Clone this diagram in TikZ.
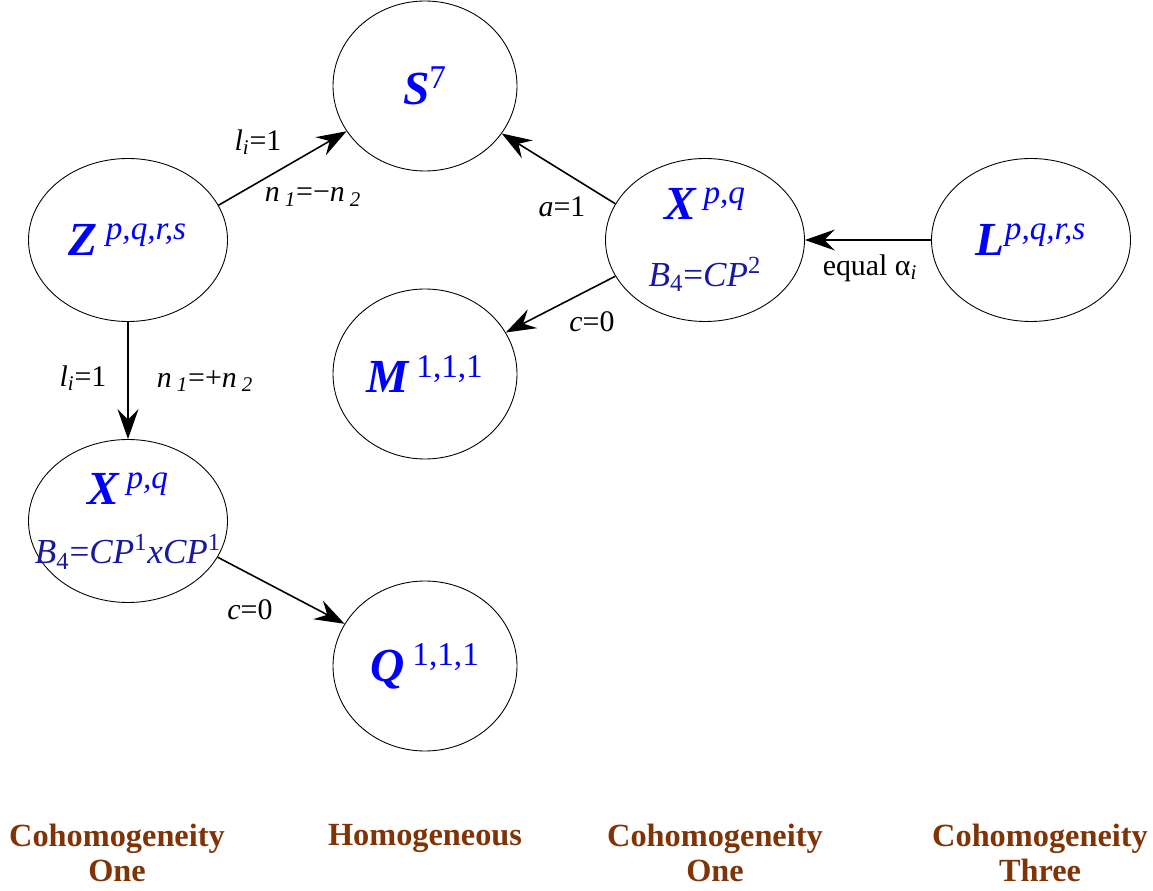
\documentclass[tikz,border=0pt]{standalone}
\usepackage{fontspec}
\setmainfont{Liberation Serif}
\usetikzlibrary{shapes.geometric,arrows.meta,positioning}
\definecolor{spaceblue}{RGB}{0,0,255}
\definecolor{baseblue}{RGB}{25,25,160}
\definecolor{classbrown}{RGB}{128,52,6}

\tikzset{
  spacenode/.style={ellipse, draw, line width=0.5pt, minimum width=3.98cm,
    minimum height=3.26cm, inner sep=0pt, align=center, text=spaceblue,
    font=\fontsize{27}{30}\selectfont},
  roundnode/.style={spacenode, minimum width=3.68cm, minimum height=3.4cm},
  flow/.style={-{Stealth[length=6mm,width=4.2mm,inset=2.1mm]}, line width=0.9pt},
  edgelabel/.style={inner sep=1pt, font=\fontsize{17}{19}\selectfont},
  classlabel/.style={anchor=north, align=center, inner sep=0pt, text=classbrown,
    font=\fontsize{18.4}{19.8}\selectfont\bfseries}
}
\newcommand{\mainsym}[1]{{\bfseries\itshape #1}}
\newcommand{\basesp}[1]{\makebox[0pt][c]{\color{baseblue}\fontsize{20}{22}\selectfont #1}}

\begin{document}
\begin{tikzpicture}
    \useasboundingbox (0,0) rectangle (23.06,17.8);

    % Spaces
    \node[roundnode] (S7) at (8.5,16.08) {\mainsym{S}\textsuperscript{7}};
    \node[spacenode] (Z) at (2.56,13.0) {\mainsym{Z}\,\textsuperscript{\itshape p,q,r,s}};
    \node[spacenode] (Xr) at (14.1,13.0) {\mainsym{X}\,\textsuperscript{\itshape p,q}\\[8pt]
        \basesp{\textit{B}\textsubscript{4}=\textit{CP}\textsuperscript{2}}};
    \node[spacenode] (L) at (20.62,13.0) {\mainsym{L}\textsuperscript{\itshape p,q,r,s}};
    \node[roundnode] (M) at (8.5,10.32) {\mainsym{M}\,\textsuperscript{1,1,1}};
    \node[spacenode] (Xl) at (2.56,7.38) {\mainsym{X}\,\textsuperscript{\itshape p,q}\\[4pt]
        \basesp{\textit{B}\textsubscript{4}=\textit{CP}\textsuperscript{1}\textit{xCP}\textsuperscript{1}}};
    \node[roundnode] (Q) at (8.5,4.48) {\mainsym{Q}\,\textsuperscript{1,1,1}};

    % Reductions
    \draw[flow] (Z.21) -- (S7);
    \draw[flow] (Xr.158) -- (S7);
    \draw[flow] (Xr.202) -- (M);
    \draw[flow] (L) -- (Xr);
    \draw[flow] (Z) -- (Xl);
    \draw[flow] (Xl.-22) -- (Q);

    % Conditions on the arrows
    \node[edgelabel] (li1) at (5.16,14.96) {\textit{l}\textsubscript{\textit{i}}=1};
    \node[edgelabel] (nminus) at (6.26,13.86) {\textit{n}\,\textsubscript{\textit{1}}=−\textit{n}\,\textsubscript{\textit{2}}};
    \node[edgelabel] (a1) at (11.24,13.66) {\textit{a}=1};
    \node[edgelabel] (c0r) at (11.84,11.36) {\textit{c}=0};
    \node[edgelabel] (alpha) at (17.4,12.44) {equal α\textsubscript{\textit{i}}};
    \node[edgelabel] (li2) at (1.66,10.24) {\textit{l}\textsubscript{\textit{i}}=1};
    \node[edgelabel] (nplus) at (4.1,10.18) {\textit{n}\,\textsubscript{\textit{1}}=+\textit{n}\,\textsubscript{\textit{2}}};
    \node[edgelabel] (c0l) at (5.0,5.6) {\textit{c}=0};

    % Classes
    \node[classlabel] (cohomA) at (2.34,1.32) {Cohomogeneity\\One};
    \node[classlabel] (homog) at (8.5,1.32) {Homogeneous};
    \node[classlabel] (cohomB) at (14.3,1.32) {Cohomogeneity\\One};
    \node[classlabel] (cohomC) at (20.8,1.32) {Cohomogeneity\\Three};
\end{tikzpicture}
\end{document}
